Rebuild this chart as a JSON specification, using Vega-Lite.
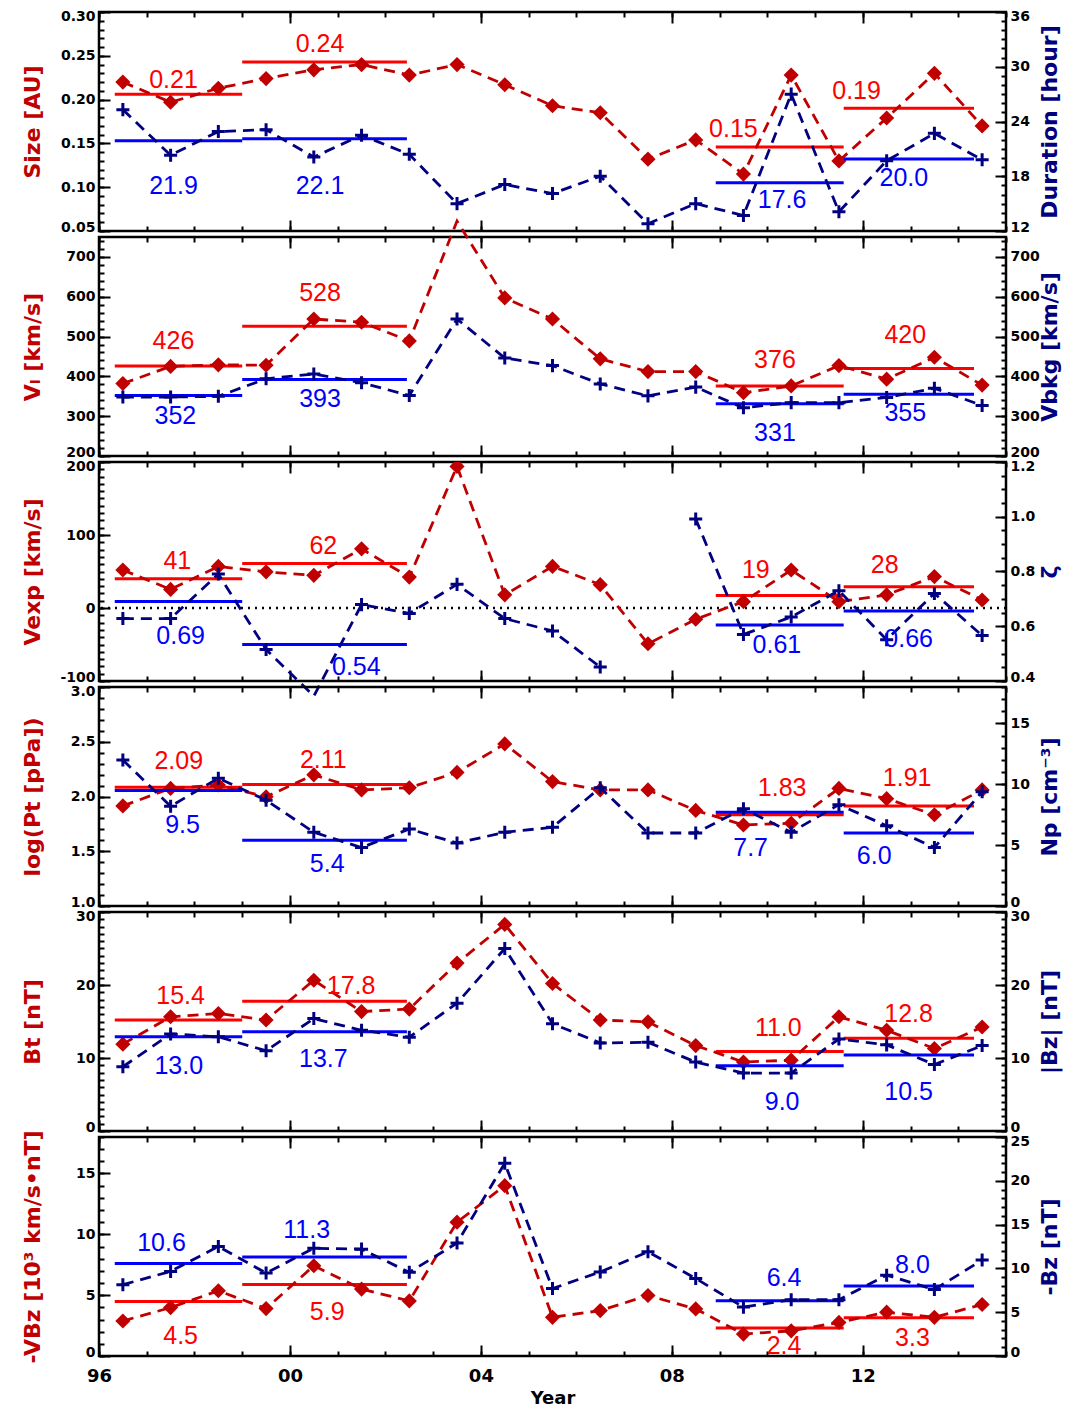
{
"$schema":"https://vega.github.io/schema/vega-lite/v6.json",
"padding":{"left":19,"top":7,"right":10,"bottom":5},
"spacing":6,
"bounds":"flush",
"config":{
 "view":{"stroke":"black","strokeWidth":2.5},
 "axis":{"grid":false,"domain":false,"tickColor":"black","tickWidth":2,"tickSize":-11,"labelPadding":15,"labelFont":"DejaVu Sans","labelFontSize":14,"labelFontWeight":"bold","labelColor":"black","labelOverlap":false,"labelFlush":false,"labelBound":false,"titleFont":"DejaVu Sans","titleFontSize":22,"titleFontWeight":"bold"},
 "line":{"strokeDash":[11,7],"strokeWidth":2.8,"clip":true},
 "rule":{"strokeWidth":3}
},
"datasets":{"d":[
{"p":1,"c":"r","t":1996.5,"v":0.220},{"p":1,"c":"r","t":1997.5,"v":0.197},{"p":1,"c":"r","t":1998.5,"v":0.213},{"p":1,"c":"r","t":1999.5,"v":0.224},{"p":1,"c":"r","t":2000.5,"v":0.234},{"p":1,"c":"r","t":2001.5,"v":0.240},{"p":1,"c":"r","t":2002.5,"v":0.228},{"p":1,"c":"r","t":2003.5,"v":0.240},{"p":1,"c":"r","t":2004.5,"v":0.217},{"p":1,"c":"r","t":2005.5,"v":0.193},{"p":1,"c":"r","t":2006.5,"v":0.185},{"p":1,"c":"r","t":2007.5,"v":0.132},{"p":1,"c":"r","t":2008.5,"v":0.154},{"p":1,"c":"r","t":2009.5,"v":0.115},{"p":1,"c":"r","t":2010.5,"v":0.228},{"p":1,"c":"r","t":2011.5,"v":0.130},{"p":1,"c":"r","t":2012.5,"v":0.179},{"p":1,"c":"r","t":2013.5,"v":0.230},{"p":1,"c":"r","t":2014.5,"v":0.170},
{"p":1,"c":"b","t":1996.5,"v":25.3},{"p":1,"c":"b","t":1997.5,"v":20.3},{"p":1,"c":"b","t":1998.5,"v":22.9},{"p":1,"c":"b","t":1999.5,"v":23.1},{"p":1,"c":"b","t":2000.5,"v":20.1},{"p":1,"c":"b","t":2001.5,"v":22.5},{"p":1,"c":"b","t":2002.5,"v":20.4},{"p":1,"c":"b","t":2003.5,"v":15.0},{"p":1,"c":"b","t":2004.5,"v":17.1},{"p":1,"c":"b","t":2005.5,"v":16.1},{"p":1,"c":"b","t":2006.5,"v":18.0},{"p":1,"c":"b","t":2007.5,"v":12.8},{"p":1,"c":"b","t":2008.5,"v":15.0},{"p":1,"c":"b","t":2009.5,"v":13.7},{"p":1,"c":"b","t":2010.5,"v":27.0},{"p":1,"c":"b","t":2011.5,"v":14.1},{"p":1,"c":"b","t":2012.5,"v":19.7},{"p":1,"c":"b","t":2013.5,"v":22.7},{"p":1,"c":"b","t":2014.5,"v":19.8},
{"p":2,"c":"r","t":1996.5,"v":382},{"p":2,"c":"r","t":1997.5,"v":425},{"p":2,"c":"r","t":1998.5,"v":429},{"p":2,"c":"r","t":1999.5,"v":428},{"p":2,"c":"r","t":2000.5,"v":544},{"p":2,"c":"r","t":2001.5,"v":536},{"p":2,"c":"r","t":2002.5,"v":489},{"p":2,"c":"r","t":2003.5,"v":790},{"p":2,"c":"r","t":2004.5,"v":597},{"p":2,"c":"r","t":2005.5,"v":544},{"p":2,"c":"r","t":2006.5,"v":444},{"p":2,"c":"r","t":2007.5,"v":412},{"p":2,"c":"r","t":2008.5,"v":412},{"p":2,"c":"r","t":2009.5,"v":359},{"p":2,"c":"r","t":2010.5,"v":376},{"p":2,"c":"r","t":2011.5,"v":427},{"p":2,"c":"r","t":2012.5,"v":393},{"p":2,"c":"r","t":2013.5,"v":448},{"p":2,"c":"r","t":2014.5,"v":378},
{"p":2,"c":"b","t":1996.5,"v":348},{"p":2,"c":"b","t":1997.5,"v":348},{"p":2,"c":"b","t":1998.5,"v":350},{"p":2,"c":"b","t":1999.5,"v":394},{"p":2,"c":"b","t":2000.5,"v":406},{"p":2,"c":"b","t":2001.5,"v":384},{"p":2,"c":"b","t":2002.5,"v":352},{"p":2,"c":"b","t":2003.5,"v":544},{"p":2,"c":"b","t":2004.5,"v":446},{"p":2,"c":"b","t":2005.5,"v":427},{"p":2,"c":"b","t":2006.5,"v":381},{"p":2,"c":"b","t":2007.5,"v":351},{"p":2,"c":"b","t":2008.5,"v":373},{"p":2,"c":"b","t":2009.5,"v":321},{"p":2,"c":"b","t":2010.5,"v":334},{"p":2,"c":"b","t":2011.5,"v":334},{"p":2,"c":"b","t":2012.5,"v":347},{"p":2,"c":"b","t":2013.5,"v":370},{"p":2,"c":"b","t":2014.5,"v":327},
{"p":3,"c":"r","t":1996.5,"v":52},{"p":3,"c":"r","t":1997.5,"v":25.5},{"p":3,"c":"r","t":1998.5,"v":57},{"p":3,"c":"r","t":1999.5,"v":49.5},{"p":3,"c":"r","t":2000.5,"v":44.7},{"p":3,"c":"r","t":2001.5,"v":81},{"p":3,"c":"r","t":2002.5,"v":42.3},{"p":3,"c":"r","t":2003.5,"v":194},{"p":3,"c":"r","t":2004.5,"v":18},{"p":3,"c":"r","t":2005.5,"v":57},{"p":3,"c":"r","t":2006.5,"v":32},{"p":3,"c":"r","t":2007.5,"v":-49},{"p":3,"c":"r","t":2008.5,"v":-15.4},{"p":3,"c":"r","t":2009.5,"v":8.7},{"p":3,"c":"r","t":2010.5,"v":52},{"p":3,"c":"r","t":2011.5,"v":8.7},{"p":3,"c":"r","t":2012.5,"v":18},{"p":3,"c":"r","t":2013.5,"v":43},{"p":3,"c":"r","t":2014.5,"v":11},
{"p":3,"c":"b","t":1996.5,"v":0.628},{"p":3,"c":"b","t":1997.5,"v":0.628},{"p":3,"c":"b","t":1998.5,"v":0.791},{"p":3,"c":"b","t":1999.5,"v":0.515},{"p":3,"c":"b","t":2000.5,"v":0.345},{"p":3,"c":"b","t":2001.5,"v":0.679},{"p":3,"c":"b","t":2002.5,"v":0.647},{"p":3,"c":"b","t":2003.5,"v":0.753},{"p":3,"c":"b","t":2004.5,"v":0.628},{"p":3,"c":"b","t":2005.5,"v":0.583},{"p":3,"c":"b","t":2006.5,"v":0.451},{"p":3,"c":"b","t":2008.5,"v":0.992,"run":2},{"p":3,"c":"b","t":2009.5,"v":0.570,"run":2},{"p":3,"c":"b","t":2010.5,"v":0.634,"run":2},{"p":3,"c":"b","t":2011.5,"v":0.730,"run":2},{"p":3,"c":"b","t":2012.5,"v":0.551,"run":2},{"p":3,"c":"b","t":2013.5,"v":0.720,"run":2},{"p":3,"c":"b","t":2014.5,"v":0.566,"run":2},
{"p":4,"c":"r","t":1996.5,"v":1.914},{"p":4,"c":"r","t":1997.5,"v":2.074},{"p":4,"c":"r","t":1998.5,"v":2.105},{"p":4,"c":"r","t":1999.5,"v":1.997},{"p":4,"c":"r","t":2000.5,"v":2.198},{"p":4,"c":"r","t":2001.5,"v":2.06},{"p":4,"c":"r","t":2002.5,"v":2.08},{"p":4,"c":"r","t":2003.5,"v":2.22},{"p":4,"c":"r","t":2004.5,"v":2.48},{"p":4,"c":"r","t":2005.5,"v":2.136},{"p":4,"c":"r","t":2006.5,"v":2.06},{"p":4,"c":"r","t":2007.5,"v":2.06},{"p":4,"c":"r","t":2008.5,"v":1.873},{"p":4,"c":"r","t":2009.5,"v":1.74},{"p":4,"c":"r","t":2010.5,"v":1.756},{"p":4,"c":"r","t":2011.5,"v":2.074},{"p":4,"c":"r","t":2012.5,"v":1.98},{"p":4,"c":"r","t":2013.5,"v":1.833},{"p":4,"c":"r","t":2014.5,"v":2.06},
{"p":4,"c":"b","t":1996.5,"v":12.0},{"p":4,"c":"b","t":1997.5,"v":8.2},{"p":4,"c":"b","t":1998.5,"v":10.5},{"p":4,"c":"b","t":1999.5,"v":8.7},{"p":4,"c":"b","t":2000.5,"v":6.06},{"p":4,"c":"b","t":2001.5,"v":4.8},{"p":4,"c":"b","t":2002.5,"v":6.33},{"p":4,"c":"b","t":2003.5,"v":5.17},{"p":4,"c":"b","t":2004.5,"v":6.06},{"p":4,"c":"b","t":2005.5,"v":6.47},{"p":4,"c":"b","t":2006.5,"v":9.72},{"p":4,"c":"b","t":2007.5,"v":6.0},{"p":4,"c":"b","t":2008.5,"v":6.0},{"p":4,"c":"b","t":2009.5,"v":8.0},{"p":4,"c":"b","t":2010.5,"v":6.06},{"p":4,"c":"b","t":2011.5,"v":8.33},{"p":4,"c":"b","t":2012.5,"v":6.6},{"p":4,"c":"b","t":2013.5,"v":4.8},{"p":4,"c":"b","t":2014.5,"v":9.4},
{"p":5,"c":"r","t":1996.5,"v":11.9},{"p":5,"c":"r","t":1997.5,"v":15.65},{"p":5,"c":"r","t":1998.5,"v":16.1},{"p":5,"c":"r","t":1999.5,"v":15.2},{"p":5,"c":"r","t":2000.5,"v":20.65},{"p":5,"c":"r","t":2001.5,"v":16.36},{"p":5,"c":"r","t":2002.5,"v":16.7},{"p":5,"c":"r","t":2003.5,"v":23.0},{"p":5,"c":"r","t":2004.5,"v":28.3},{"p":5,"c":"r","t":2005.5,"v":20.2},{"p":5,"c":"r","t":2006.5,"v":15.2},{"p":5,"c":"r","t":2007.5,"v":14.95},{"p":5,"c":"r","t":2008.5,"v":11.7},{"p":5,"c":"r","t":2009.5,"v":9.44},{"p":5,"c":"r","t":2010.5,"v":9.7},{"p":5,"c":"r","t":2011.5,"v":15.65},{"p":5,"c":"r","t":2012.5,"v":13.8},{"p":5,"c":"r","t":2013.5,"v":11.3},{"p":5,"c":"r","t":2014.5,"v":14.25},
{"p":5,"c":"b","t":1996.5,"v":8.8},{"p":5,"c":"b","t":1997.5,"v":13.3},{"p":5,"c":"b","t":1998.5,"v":12.9},{"p":5,"c":"b","t":1999.5,"v":11.0},{"p":5,"c":"b","t":2000.5,"v":15.4},{"p":5,"c":"b","t":2001.5,"v":13.8},{"p":5,"c":"b","t":2002.5,"v":12.85},{"p":5,"c":"b","t":2003.5,"v":17.5},{"p":5,"c":"b","t":2004.5,"v":25.0},{"p":5,"c":"b","t":2005.5,"v":14.7},{"p":5,"c":"b","t":2006.5,"v":12.06},{"p":5,"c":"b","t":2007.5,"v":12.15},{"p":5,"c":"b","t":2008.5,"v":9.44},{"p":5,"c":"b","t":2009.5,"v":7.94},{"p":5,"c":"b","t":2010.5,"v":7.94},{"p":5,"c":"b","t":2011.5,"v":12.6},{"p":5,"c":"b","t":2012.5,"v":11.8},{"p":5,"c":"b","t":2013.5,"v":9.1},{"p":5,"c":"b","t":2014.5,"v":11.7},
{"p":6,"c":"r","t":1996.5,"v":2.88},{"p":6,"c":"r","t":1997.5,"v":3.98},{"p":6,"c":"r","t":1998.5,"v":5.36},{"p":6,"c":"r","t":1999.5,"v":3.9},{"p":6,"c":"r","t":2000.5,"v":7.42},{"p":6,"c":"r","t":2001.5,"v":5.5},{"p":6,"c":"r","t":2002.5,"v":4.53},{"p":6,"c":"r","t":2003.5,"v":11.0},{"p":6,"c":"r","t":2004.5,"v":14.0},{"p":6,"c":"r","t":2005.5,"v":3.18},{"p":6,"c":"r","t":2006.5,"v":3.73},{"p":6,"c":"r","t":2007.5,"v":4.97},{"p":6,"c":"r","t":2008.5,"v":3.87},{"p":6,"c":"r","t":2009.5,"v":1.8},{"p":6,"c":"r","t":2010.5,"v":2.07},{"p":6,"c":"r","t":2011.5,"v":2.76},{"p":6,"c":"r","t":2012.5,"v":3.6},{"p":6,"c":"r","t":2013.5,"v":3.18},{"p":6,"c":"r","t":2014.5,"v":4.23},
{"p":6,"c":"b","t":1996.5,"v":8.14},{"p":6,"c":"b","t":1997.5,"v":9.66},{"p":6,"c":"b","t":1998.5,"v":12.5},{"p":6,"c":"b","t":1999.5,"v":9.47},{"p":6,"c":"b","t":2000.5,"v":12.3},{"p":6,"c":"b","t":2001.5,"v":12.2},{"p":6,"c":"b","t":2002.5,"v":9.55},{"p":6,"c":"b","t":2003.5,"v":12.9},{"p":6,"c":"b","t":2004.5,"v":22.0},{"p":6,"c":"b","t":2005.5,"v":7.7},{"p":6,"c":"b","t":2006.5,"v":9.6},{"p":6,"c":"b","t":2007.5,"v":11.9},{"p":6,"c":"b","t":2008.5,"v":8.85},{"p":6,"c":"b","t":2009.5,"v":5.58},{"p":6,"c":"b","t":2010.5,"v":6.42},{"p":6,"c":"b","t":2011.5,"v":6.42},{"p":6,"c":"b","t":2012.5,"v":9.23},{"p":6,"c":"b","t":2013.5,"v":7.58},{"p":6,"c":"b","t":2014.5,"v":10.96},
{"p":1,"c":"r","x0":1996.33,"x1":1999,"m":0.206,"lab":"0.21","lx":1997.56,"ly":0.222},
{"p":1,"c":"r","x0":1999,"x1":2002.45,"m":0.243,"lab":"0.24","lx":2000.63,"ly":0.263},
{"p":1,"c":"r","x0":2008.92,"x1":2011.6,"m":0.146,"lab":"0.15","lx":2009.29,"ly":0.167},
{"p":1,"c":"r","x0":2011.6,"x1":2014.33,"m":0.19,"lab":"0.19","lx":2011.87,"ly":0.21},
{"p":1,"c":"b","x0":1996.33,"x1":1999,"m":21.9,"lab":"21.9","lx":1997.56,"ly":16.9},
{"p":1,"c":"b","x0":1999,"x1":2002.45,"m":22.1,"lab":"22.1","lx":2000.63,"ly":16.9},
{"p":1,"c":"b","x0":2008.92,"x1":2011.6,"m":17.3,"lab":"17.6","lx":2010.31,"ly":15.4},
{"p":1,"c":"b","x0":2011.6,"x1":2014.33,"m":19.9,"lab":"20.0","lx":2012.86,"ly":17.8},
{"p":2,"c":"r","x0":1996.33,"x1":1999,"m":426,"lab":"426","lx":1997.56,"ly":489},
{"p":2,"c":"r","x0":1999,"x1":2002.45,"m":526,"lab":"528","lx":2000.63,"ly":609},
{"p":2,"c":"r","x0":2008.92,"x1":2011.6,"m":376,"lab":"376","lx":2010.16,"ly":440},
{"p":2,"c":"r","x0":2011.6,"x1":2014.33,"m":420,"lab":"420","lx":2012.89,"ly":503},
{"p":2,"c":"b","x0":1996.33,"x1":1999,"m":352,"lab":"352","lx":1997.6,"ly":301},
{"p":2,"c":"b","x0":1999,"x1":2002.45,"m":392,"lab":"393","lx":2000.63,"ly":344},
{"p":2,"c":"b","x0":2008.92,"x1":2011.6,"m":331,"lab":"331","lx":2010.16,"ly":258},
{"p":2,"c":"b","x0":2011.6,"x1":2014.33,"m":355,"lab":"355","lx":2012.89,"ly":308},
{"p":3,"c":"r","x0":1996.33,"x1":1999,"m":40,"lab":"41","lx":1997.64,"ly":65},
{"p":3,"c":"r","x0":1999,"x1":2002.45,"m":61,"lab":"62","lx":2000.7,"ly":85.6},
{"p":3,"c":"r","x0":2008.92,"x1":2011.6,"m":17,"lab":"19","lx":2009.76,"ly":52},
{"p":3,"c":"r","x0":2011.6,"x1":2014.33,"m":29,"lab":"28","lx":2012.46,"ly":59},
{"p":3,"c":"b","x0":1996.33,"x1":1999,"m":0.69,"lab":"0.69","lx":1997.71,"ly":0.564},
{"p":3,"c":"b","x0":1999,"x1":2002.45,"m":0.533,"lab":"0.54","lx":2001.39,"ly":0.451},
{"p":3,"c":"b","x0":2008.92,"x1":2011.6,"m":0.605,"lab":"0.61","lx":2010.2,"ly":0.532},
{"p":3,"c":"b","x0":2011.6,"x1":2014.33,"m":0.656,"lab":"0.66","lx":2012.96,"ly":0.553},
{"p":4,"c":"r","x0":1996.33,"x1":1999,"m":2.085,"lab":"2.09","lx":1997.67,"ly":2.32},
{"p":4,"c":"r","x0":1999,"x1":2002.45,"m":2.11,"lab":"2.11","lx":2000.7,"ly":2.336},
{"p":4,"c":"r","x0":2008.92,"x1":2011.6,"m":1.833,"lab":"1.83","lx":2010.31,"ly":2.074},
{"p":4,"c":"r","x0":2011.6,"x1":2014.33,"m":1.914,"lab":"1.91","lx":2012.93,"ly":2.167},
{"p":4,"c":"b","x0":1996.33,"x1":1999,"m":9.5,"lab":"9.5","lx":1997.75,"ly":6.67},
{"p":4,"c":"b","x0":1999,"x1":2002.45,"m":5.4,"lab":"5.4","lx":2000.78,"ly":3.42},
{"p":4,"c":"b","x0":2008.92,"x1":2011.6,"m":7.7,"lab":"7.7","lx":2009.65,"ly":4.8},
{"p":4,"c":"b","x0":2011.6,"x1":2014.33,"m":6.0,"lab":"6.0","lx":2012.24,"ly":4.1},
{"p":5,"c":"r","x0":1996.33,"x1":1999,"m":15.2,"lab":"15.4","lx":1997.71,"ly":18.46},
{"p":5,"c":"r","x0":1999,"x1":2002.45,"m":17.76,"lab":"17.8","lx":2001.28,"ly":19.86},
{"p":5,"c":"r","x0":2008.92,"x1":2011.6,"m":10.9,"lab":"11.0","lx":2010.23,"ly":14.1},
{"p":5,"c":"r","x0":2011.6,"x1":2014.33,"m":12.7,"lab":"12.8","lx":2012.96,"ly":16.0},
{"p":5,"c":"b","x0":1996.33,"x1":1999,"m":12.9,"lab":"13.0","lx":1997.67,"ly":8.97},
{"p":5,"c":"b","x0":1999,"x1":2002.45,"m":13.6,"lab":"13.7","lx":2000.7,"ly":9.8},
{"p":5,"c":"b","x0":2008.92,"x1":2011.6,"m":8.95,"lab":"9.0","lx":2010.31,"ly":3.97},
{"p":5,"c":"b","x0":2011.6,"x1":2014.33,"m":10.4,"lab":"10.5","lx":2012.96,"ly":5.4},
{"p":6,"c":"r","x0":1996.33,"x1":1999,"m":4.48,"lab":"4.5","lx":1997.71,"ly":1.65},
{"p":6,"c":"r","x0":1999,"x1":2002.45,"m":5.88,"lab":"5.9","lx":2000.78,"ly":3.63},
{"p":6,"c":"r","x0":2008.92,"x1":2011.6,"m":2.3,"lab":"2.4","lx":2010.35,"ly":0.83},
{"p":6,"c":"r","x0":2011.6,"x1":2014.33,"m":3.15,"lab":"3.3","lx":2013.04,"ly":1.52},
{"p":6,"c":"b","x0":1996.33,"x1":1999,"m":10.55,"lab":"10.6","lx":1997.31,"ly":12.95},
{"p":6,"c":"b","x0":1999,"x1":2002.45,"m":11.3,"lab":"11.3","lx":2000.35,"ly":14.4},
{"p":6,"c":"b","x0":2008.92,"x1":2011.6,"m":6.3,"lab":"6.4","lx":2010.35,"ly":8.85},
{"p":6,"c":"b","x0":2011.6,"x1":2014.33,"m":8.0,"lab":"8.0","lx":2013.04,"ly":10.4}
]},
"vconcat":[
{"width":907,"height":219,"data":{"name":"d"},"transform":[{"filter":"datum.p==1"}],"resolve":{"scale":{"x":"independent","y":"independent"}},
"layer":[
{"transform":[{"filter":"datum.c=='r'"}],"layer":[
{"transform":[{"filter":"isValid(datum.x0)"}],"mark":{"type":"rule","color":"#ff0000"},"encoding":{
"x":{"field":"x0","type":"quantitative","scale":{"domain":[1996,2015],"nice":false,"zero":false},"title":null,"axis":{"orient":"bottom","values":[1996,2000,2004,2008,2012],"labels":false}},
"x2":{"field":"x1"},
"y":{"field":"m","type":"quantitative","scale":{"domain":[0.05,0.3],"nice":false,"zero":false},"title":"Size [AU]","axis":{"orient":"left","values":[0.05,0.1,0.15,0.2,0.25,0.3],"labelExpr":"format(datum.value,'.2f')","titleColor":"#c00000","minExtent":42,"maxExtent":42,"titlePadding":13,"labelFlush":true,"labelFlushOffset":3}}}},
{"transform":[{"filter":"isValid(datum.t)"}],"mark":{"type":"line","color":"#c00000"},"encoding":{
"x":{"field":"t","type":"quantitative","scale":{"domain":[1996,2015],"nice":false,"zero":false},"title":null},
"y":{"field":"v","type":"quantitative","scale":{"domain":[0.05,0.3],"nice":false,"zero":false},"title":"Size [AU]"},"detail":{"field":"run","type":"nominal"}}},
{"transform":[{"filter":"isValid(datum.t)"}],"mark":{"type":"point","shape":"diamond","filled":true,"opacity":1,"size":230,"color":"#c00000","clip":true},"encoding":{
"x":{"field":"t","type":"quantitative","scale":{"domain":[1996,2015],"nice":false,"zero":false},"title":null},
"y":{"field":"v","type":"quantitative","scale":{"domain":[0.05,0.3],"nice":false,"zero":false},"title":"Size [AU]"}}},
{"transform":[{"filter":"isValid(datum.x0)"}],"mark":{"type":"text","color":"#ff0000","font":"Liberation Sans","fontSize":25,"align":"center","baseline":"middle"},"encoding":{
"x":{"field":"lx","type":"quantitative","scale":{"domain":[1996,2015],"nice":false,"zero":false},"title":null},
"y":{"field":"ly","type":"quantitative","scale":{"domain":[0.05,0.3],"nice":false,"zero":false},"title":"Size [AU]"},"text":{"field":"lab"}}}
]},
{"transform":[{"filter":"datum.c=='b'"}],"layer":[
{"transform":[{"filter":"isValid(datum.x0)"}],"mark":{"type":"rule","color":"#0000ff"},"encoding":{
"x":{"field":"x0","type":"quantitative","scale":{"domain":[1996,2015],"nice":false,"zero":false},"title":null,"axis":{"orient":"top","values":[1996,2000,2004,2008,2012],"labels":false}},
"x2":{"field":"x1"},
"y":{"field":"m","type":"quantitative","scale":{"domain":[12,36],"nice":false,"zero":false},"title":"Duration [hour]","axis":{"orient":"right","values":[12,18,24,30,36],"labelExpr":"toString(datum.value)","titleColor":"#000080","titleAngle":270,"titleBaseline":"top","minExtent":30,"maxExtent":30,"titlePadding":3,"labelFlush":true,"labelFlushOffset":3}}}},
{"transform":[{"filter":"isValid(datum.t)"}],"mark":{"type":"line","color":"#000080"},"encoding":{
"x":{"field":"t","type":"quantitative","scale":{"domain":[1996,2015],"nice":false,"zero":false},"title":null},
"y":{"field":"v","type":"quantitative","scale":{"domain":[12,36],"nice":false,"zero":false},"title":"Duration [hour]"},"detail":{"field":"run","type":"nominal"}}},
{"transform":[{"filter":"isValid(datum.t)"}],"mark":{"type":"point","shape":"M-1,0H1M0,-1V1","filled":false,"opacity":1,"strokeWidth":3,"size":170,"color":"#000080","clip":true},"encoding":{
"x":{"field":"t","type":"quantitative","scale":{"domain":[1996,2015],"nice":false,"zero":false},"title":null},
"y":{"field":"v","type":"quantitative","scale":{"domain":[12,36],"nice":false,"zero":false},"title":"Duration [hour]"}}},
{"transform":[{"filter":"isValid(datum.x0)"}],"mark":{"type":"text","color":"#0000ff","font":"Liberation Sans","fontSize":25,"align":"center","baseline":"middle"},"encoding":{
"x":{"field":"lx","type":"quantitative","scale":{"domain":[1996,2015],"nice":false,"zero":false},"title":null},
"y":{"field":"ly","type":"quantitative","scale":{"domain":[12,36],"nice":false,"zero":false},"title":"Duration [hour]"},"text":{"field":"lab"}}}
]},
{"transform":[{"filter":"datum.c=='r' && isValid(datum.t)"}],"mark":{"type":"point","opacity":0,"clip":true},"encoding":{
"x":{"field":"t","type":"quantitative","scale":{"domain":[1996,2015],"nice":false,"zero":false},"title":null,"axis":{"orient":"bottom","values":[1996,1997,1998,1999,2000,2001,2002,2003,2004,2005,2006,2007,2008,2009,2010,2011,2012,2013,2014,2015],"labels":false,"tickSize":-5}},
"y":{"field":"v","type":"quantitative","scale":{"domain":[0.05,0.3],"nice":false,"zero":false},"title":null,"axis":{"orient":"left","values":[0.05,0.06,0.07,0.08,0.09,0.1,0.11,0.12,0.13,0.14,0.15,0.16,0.17,0.18,0.19,0.2,0.21,0.22,0.23,0.24,0.25,0.26,0.27,0.28,0.29,0.3],"labels":false,"tickSize":-5}}}},
{"transform":[{"filter":"datum.c=='b' && isValid(datum.t)"}],"mark":{"type":"point","opacity":0,"clip":true},"encoding":{
"x":{"field":"t","type":"quantitative","scale":{"domain":[1996,2015],"nice":false,"zero":false},"title":null,"axis":{"orient":"top","values":[1996,1997,1998,1999,2000,2001,2002,2003,2004,2005,2006,2007,2008,2009,2010,2011,2012,2013,2014,2015],"labels":false,"tickSize":-5}},
"y":{"field":"v","type":"quantitative","scale":{"domain":[12,36],"nice":false,"zero":false},"title":null,"axis":{"orient":"right","values":[12,13,14,15,16,17,18,19,20,21,22,23,24,25,26,27,28,29,30,31,32,33,34,35,36],"labels":false,"tickSize":-5}}}}
]},
{"width":907,"height":219,"data":{"name":"d"},"transform":[{"filter":"datum.p==2"}],"resolve":{"scale":{"x":"independent","y":"independent"}},
"layer":[
{"transform":[{"filter":"datum.c=='r'"}],"layer":[
{"transform":[{"filter":"isValid(datum.x0)"}],"mark":{"type":"rule","color":"#ff0000"},"encoding":{
"x":{"field":"x0","type":"quantitative","scale":{"domain":[1996,2015],"nice":false,"zero":false},"title":null,"axis":{"orient":"bottom","values":[1996,2000,2004,2008,2012],"labels":false}},
"x2":{"field":"x1"},
"y":{"field":"m","type":"quantitative","scale":{"domain":[200,750],"nice":false,"zero":false},"title":"Vₗ [km/s]","axis":{"orient":"left","values":[200,300,400,500,600,700],"labelExpr":"toString(datum.value)","titleColor":"#c00000","minExtent":42,"maxExtent":42,"titlePadding":13,"labelFlush":true,"labelFlushOffset":3}}}},
{"transform":[{"filter":"isValid(datum.t)"}],"mark":{"type":"line","color":"#c00000"},"encoding":{
"x":{"field":"t","type":"quantitative","scale":{"domain":[1996,2015],"nice":false,"zero":false},"title":null},
"y":{"field":"v","type":"quantitative","scale":{"domain":[200,750],"nice":false,"zero":false},"title":"Vₗ [km/s]"},"detail":{"field":"run","type":"nominal"}}},
{"transform":[{"filter":"isValid(datum.t)"}],"mark":{"type":"point","shape":"diamond","filled":true,"opacity":1,"size":230,"color":"#c00000","clip":true},"encoding":{
"x":{"field":"t","type":"quantitative","scale":{"domain":[1996,2015],"nice":false,"zero":false},"title":null},
"y":{"field":"v","type":"quantitative","scale":{"domain":[200,750],"nice":false,"zero":false},"title":"Vₗ [km/s]"}}},
{"transform":[{"filter":"isValid(datum.x0)"}],"mark":{"type":"text","color":"#ff0000","font":"Liberation Sans","fontSize":25,"align":"center","baseline":"middle"},"encoding":{
"x":{"field":"lx","type":"quantitative","scale":{"domain":[1996,2015],"nice":false,"zero":false},"title":null},
"y":{"field":"ly","type":"quantitative","scale":{"domain":[200,750],"nice":false,"zero":false},"title":"Vₗ [km/s]"},"text":{"field":"lab"}}}
]},
{"transform":[{"filter":"datum.c=='b'"}],"layer":[
{"transform":[{"filter":"isValid(datum.x0)"}],"mark":{"type":"rule","color":"#0000ff"},"encoding":{
"x":{"field":"x0","type":"quantitative","scale":{"domain":[1996,2015],"nice":false,"zero":false},"title":null,"axis":{"orient":"top","values":[1996,2000,2004,2008,2012],"labels":false}},
"x2":{"field":"x1"},
"y":{"field":"m","type":"quantitative","scale":{"domain":[200,750],"nice":false,"zero":false},"title":"Vbkg [km/s]","axis":{"orient":"right","values":[200,300,400,500,600,700],"labelExpr":"toString(datum.value)","titleColor":"#000080","titleAngle":270,"titleBaseline":"top","minExtent":30,"maxExtent":30,"titlePadding":3,"labelFlush":true,"labelFlushOffset":3}}}},
{"transform":[{"filter":"isValid(datum.t)"}],"mark":{"type":"line","color":"#000080"},"encoding":{
"x":{"field":"t","type":"quantitative","scale":{"domain":[1996,2015],"nice":false,"zero":false},"title":null},
"y":{"field":"v","type":"quantitative","scale":{"domain":[200,750],"nice":false,"zero":false},"title":"Vbkg [km/s]"},"detail":{"field":"run","type":"nominal"}}},
{"transform":[{"filter":"isValid(datum.t)"}],"mark":{"type":"point","shape":"M-1,0H1M0,-1V1","filled":false,"opacity":1,"strokeWidth":3,"size":170,"color":"#000080","clip":true},"encoding":{
"x":{"field":"t","type":"quantitative","scale":{"domain":[1996,2015],"nice":false,"zero":false},"title":null},
"y":{"field":"v","type":"quantitative","scale":{"domain":[200,750],"nice":false,"zero":false},"title":"Vbkg [km/s]"}}},
{"transform":[{"filter":"isValid(datum.x0)"}],"mark":{"type":"text","color":"#0000ff","font":"Liberation Sans","fontSize":25,"align":"center","baseline":"middle"},"encoding":{
"x":{"field":"lx","type":"quantitative","scale":{"domain":[1996,2015],"nice":false,"zero":false},"title":null},
"y":{"field":"ly","type":"quantitative","scale":{"domain":[200,750],"nice":false,"zero":false},"title":"Vbkg [km/s]"},"text":{"field":"lab"}}}
]},
{"transform":[{"filter":"datum.c=='r' && isValid(datum.t)"}],"mark":{"type":"point","opacity":0,"clip":true},"encoding":{
"x":{"field":"t","type":"quantitative","scale":{"domain":[1996,2015],"nice":false,"zero":false},"title":null,"axis":{"orient":"bottom","values":[1996,1997,1998,1999,2000,2001,2002,2003,2004,2005,2006,2007,2008,2009,2010,2011,2012,2013,2014,2015],"labels":false,"tickSize":-5}},
"y":{"field":"v","type":"quantitative","scale":{"domain":[200,750],"nice":false,"zero":false},"title":null,"axis":{"orient":"left","values":[200,220,240,260,280,300,320,340,360,380,400,420,440,460,480,500,520,540,560,580,600,620,640,660,680,700,720,740],"labels":false,"tickSize":-5}}}},
{"transform":[{"filter":"datum.c=='b' && isValid(datum.t)"}],"mark":{"type":"point","opacity":0,"clip":true},"encoding":{
"x":{"field":"t","type":"quantitative","scale":{"domain":[1996,2015],"nice":false,"zero":false},"title":null,"axis":{"orient":"top","values":[1996,1997,1998,1999,2000,2001,2002,2003,2004,2005,2006,2007,2008,2009,2010,2011,2012,2013,2014,2015],"labels":false,"tickSize":-5}},
"y":{"field":"v","type":"quantitative","scale":{"domain":[200,750],"nice":false,"zero":false},"title":null,"axis":{"orient":"right","values":[200,220,240,260,280,300,320,340,360,380,400,420,440,460,480,500,520,540,560,580,600,620,640,660,680,700,720,740],"labels":false,"tickSize":-5}}}}
]},
{"width":907,"height":219,"data":{"name":"d"},"transform":[{"filter":"datum.p==3"}],"resolve":{"scale":{"x":"independent","y":"independent"}},
"layer":[
{"transform":[{"filter":"datum.c=='r'"}],"layer":[
{"transform":[{"filter":"isValid(datum.x0)"}],"mark":{"type":"rule","color":"#ff0000"},"encoding":{
"x":{"field":"x0","type":"quantitative","scale":{"domain":[1996,2015],"nice":false,"zero":false},"title":null,"axis":{"orient":"bottom","values":[1996,2000,2004,2008,2012],"labels":false}},
"x2":{"field":"x1"},
"y":{"field":"m","type":"quantitative","scale":{"domain":[-100,200],"nice":false,"zero":false},"title":"Vexp [km/s]","axis":{"orient":"left","values":[-100,-50,0,50,100,150,200],"labelExpr":"toString(datum.value)","titleColor":"#c00000","minExtent":42,"maxExtent":42,"titlePadding":13,"labelFlush":true,"labelFlushOffset":3}}}},
{"data":{"values":[{"p":3,"c":"r","z":0}]},"mark":{"type":"rule","color":"black","strokeDash":[2,5],"strokeWidth":2.5},"encoding":{
"y":{"field":"z","type":"quantitative","scale":{"domain":[-100,200],"nice":false,"zero":false},"title":"Vexp [km/s]"}}},
{"transform":[{"filter":"isValid(datum.t)"}],"mark":{"type":"line","color":"#c00000"},"encoding":{
"x":{"field":"t","type":"quantitative","scale":{"domain":[1996,2015],"nice":false,"zero":false},"title":null},
"y":{"field":"v","type":"quantitative","scale":{"domain":[-100,200],"nice":false,"zero":false},"title":"Vexp [km/s]"},"detail":{"field":"run","type":"nominal"}}},
{"transform":[{"filter":"isValid(datum.t)"}],"mark":{"type":"point","shape":"diamond","filled":true,"opacity":1,"size":230,"color":"#c00000","clip":true},"encoding":{
"x":{"field":"t","type":"quantitative","scale":{"domain":[1996,2015],"nice":false,"zero":false},"title":null},
"y":{"field":"v","type":"quantitative","scale":{"domain":[-100,200],"nice":false,"zero":false},"title":"Vexp [km/s]"}}},
{"transform":[{"filter":"isValid(datum.x0)"}],"mark":{"type":"text","color":"#ff0000","font":"Liberation Sans","fontSize":25,"align":"center","baseline":"middle"},"encoding":{
"x":{"field":"lx","type":"quantitative","scale":{"domain":[1996,2015],"nice":false,"zero":false},"title":null},
"y":{"field":"ly","type":"quantitative","scale":{"domain":[-100,200],"nice":false,"zero":false},"title":"Vexp [km/s]"},"text":{"field":"lab"}}}
]},
{"transform":[{"filter":"datum.c=='b'"}],"layer":[
{"transform":[{"filter":"isValid(datum.x0)"}],"mark":{"type":"rule","color":"#0000ff"},"encoding":{
"x":{"field":"x0","type":"quantitative","scale":{"domain":[1996,2015],"nice":false,"zero":false},"title":null,"axis":{"orient":"top","values":[1996,2000,2004,2008,2012],"labels":false}},
"x2":{"field":"x1"},
"y":{"field":"m","type":"quantitative","scale":{"domain":[0.4,1.2],"nice":false,"zero":false},"title":"ζ","axis":{"orient":"right","values":[0.4,0.6,0.8,1.0,1.2],"labelExpr":"format(datum.value,'.1f')","titleColor":"#000080","titleAngle":270,"titleBaseline":"top","minExtent":30,"maxExtent":30,"titlePadding":3,"labelFlush":true,"labelFlushOffset":3}}}},
{"transform":[{"filter":"isValid(datum.t)"}],"mark":{"type":"line","color":"#000080"},"encoding":{
"x":{"field":"t","type":"quantitative","scale":{"domain":[1996,2015],"nice":false,"zero":false},"title":null},
"y":{"field":"v","type":"quantitative","scale":{"domain":[0.4,1.2],"nice":false,"zero":false},"title":"ζ"},"detail":{"field":"run","type":"nominal"}}},
{"transform":[{"filter":"isValid(datum.t)"}],"mark":{"type":"point","shape":"M-1,0H1M0,-1V1","filled":false,"opacity":1,"strokeWidth":3,"size":170,"color":"#000080","clip":true},"encoding":{
"x":{"field":"t","type":"quantitative","scale":{"domain":[1996,2015],"nice":false,"zero":false},"title":null},
"y":{"field":"v","type":"quantitative","scale":{"domain":[0.4,1.2],"nice":false,"zero":false},"title":"ζ"}}},
{"transform":[{"filter":"isValid(datum.x0)"}],"mark":{"type":"text","color":"#0000ff","font":"Liberation Sans","fontSize":25,"align":"center","baseline":"middle"},"encoding":{
"x":{"field":"lx","type":"quantitative","scale":{"domain":[1996,2015],"nice":false,"zero":false},"title":null},
"y":{"field":"ly","type":"quantitative","scale":{"domain":[0.4,1.2],"nice":false,"zero":false},"title":"ζ"},"text":{"field":"lab"}}}
]},
{"transform":[{"filter":"datum.c=='r' && isValid(datum.t)"}],"mark":{"type":"point","opacity":0,"clip":true},"encoding":{
"x":{"field":"t","type":"quantitative","scale":{"domain":[1996,2015],"nice":false,"zero":false},"title":null,"axis":{"orient":"bottom","values":[1996,1997,1998,1999,2000,2001,2002,2003,2004,2005,2006,2007,2008,2009,2010,2011,2012,2013,2014,2015],"labels":false,"tickSize":-5}},
"y":{"field":"v","type":"quantitative","scale":{"domain":[-100,200],"nice":false,"zero":false},"title":null,"axis":{"orient":"left","values":[-100,-90,-80,-70,-60,-50,-40,-30,-20,-10,0,10,20,30,40,50,60,70,80,90,100,110,120,130,140,150,160,170,180,190,200],"labels":false,"tickSize":-5}}}},
{"transform":[{"filter":"datum.c=='b' && isValid(datum.t)"}],"mark":{"type":"point","opacity":0,"clip":true},"encoding":{
"x":{"field":"t","type":"quantitative","scale":{"domain":[1996,2015],"nice":false,"zero":false},"title":null,"axis":{"orient":"top","values":[1996,1997,1998,1999,2000,2001,2002,2003,2004,2005,2006,2007,2008,2009,2010,2011,2012,2013,2014,2015],"labels":false,"tickSize":-5}},
"y":{"field":"v","type":"quantitative","scale":{"domain":[0.4,1.2],"nice":false,"zero":false},"title":null,"axis":{"orient":"right","values":[0.4,0.45,0.5,0.55,0.6,0.65,0.7,0.75,0.8,0.85,0.9,0.95,1,1.05,1.1,1.15,1.2],"labels":false,"tickSize":-5}}}}
]},
{"width":907,"height":219,"data":{"name":"d"},"transform":[{"filter":"datum.p==4"}],"resolve":{"scale":{"x":"independent","y":"independent"}},
"layer":[
{"transform":[{"filter":"datum.c=='r'"}],"layer":[
{"transform":[{"filter":"isValid(datum.x0)"}],"mark":{"type":"rule","color":"#ff0000"},"encoding":{
"x":{"field":"x0","type":"quantitative","scale":{"domain":[1996,2015],"nice":false,"zero":false},"title":null,"axis":{"orient":"bottom","values":[1996,2000,2004,2008,2012],"labels":false}},
"x2":{"field":"x1"},
"y":{"field":"m","type":"quantitative","scale":{"domain":[1,3],"nice":false,"zero":false},"title":"log(Pt [pPa])","axis":{"orient":"left","values":[1,1.5,2,2.5,3],"labelExpr":"format(datum.value,'.1f')","titleColor":"#c00000","minExtent":42,"maxExtent":42,"titlePadding":13,"labelFlush":true,"labelFlushOffset":3}}}},
{"transform":[{"filter":"isValid(datum.t)"}],"mark":{"type":"line","color":"#c00000"},"encoding":{
"x":{"field":"t","type":"quantitative","scale":{"domain":[1996,2015],"nice":false,"zero":false},"title":null},
"y":{"field":"v","type":"quantitative","scale":{"domain":[1,3],"nice":false,"zero":false},"title":"log(Pt [pPa])"},"detail":{"field":"run","type":"nominal"}}},
{"transform":[{"filter":"isValid(datum.t)"}],"mark":{"type":"point","shape":"diamond","filled":true,"opacity":1,"size":230,"color":"#c00000","clip":true},"encoding":{
"x":{"field":"t","type":"quantitative","scale":{"domain":[1996,2015],"nice":false,"zero":false},"title":null},
"y":{"field":"v","type":"quantitative","scale":{"domain":[1,3],"nice":false,"zero":false},"title":"log(Pt [pPa])"}}},
{"transform":[{"filter":"isValid(datum.x0)"}],"mark":{"type":"text","color":"#ff0000","font":"Liberation Sans","fontSize":25,"align":"center","baseline":"middle"},"encoding":{
"x":{"field":"lx","type":"quantitative","scale":{"domain":[1996,2015],"nice":false,"zero":false},"title":null},
"y":{"field":"ly","type":"quantitative","scale":{"domain":[1,3],"nice":false,"zero":false},"title":"log(Pt [pPa])"},"text":{"field":"lab"}}}
]},
{"transform":[{"filter":"datum.c=='b'"}],"layer":[
{"transform":[{"filter":"isValid(datum.x0)"}],"mark":{"type":"rule","color":"#0000ff"},"encoding":{
"x":{"field":"x0","type":"quantitative","scale":{"domain":[1996,2015],"nice":false,"zero":false},"title":null,"axis":{"orient":"top","values":[1996,2000,2004,2008,2012],"labels":false}},
"x2":{"field":"x1"},
"y":{"field":"m","type":"quantitative","scale":{"domain":[0,18],"nice":false,"zero":false},"title":"Np [cm⁻³]","axis":{"orient":"right","values":[0,5,10,15],"labelExpr":"toString(datum.value)","titleColor":"#000080","titleAngle":270,"titleBaseline":"top","minExtent":30,"maxExtent":30,"titlePadding":3,"labelFlush":true,"labelFlushOffset":3}}}},
{"transform":[{"filter":"isValid(datum.t)"}],"mark":{"type":"line","color":"#000080"},"encoding":{
"x":{"field":"t","type":"quantitative","scale":{"domain":[1996,2015],"nice":false,"zero":false},"title":null},
"y":{"field":"v","type":"quantitative","scale":{"domain":[0,18],"nice":false,"zero":false},"title":"Np [cm⁻³]"},"detail":{"field":"run","type":"nominal"}}},
{"transform":[{"filter":"isValid(datum.t)"}],"mark":{"type":"point","shape":"M-1,0H1M0,-1V1","filled":false,"opacity":1,"strokeWidth":3,"size":170,"color":"#000080","clip":true},"encoding":{
"x":{"field":"t","type":"quantitative","scale":{"domain":[1996,2015],"nice":false,"zero":false},"title":null},
"y":{"field":"v","type":"quantitative","scale":{"domain":[0,18],"nice":false,"zero":false},"title":"Np [cm⁻³]"}}},
{"transform":[{"filter":"isValid(datum.x0)"}],"mark":{"type":"text","color":"#0000ff","font":"Liberation Sans","fontSize":25,"align":"center","baseline":"middle"},"encoding":{
"x":{"field":"lx","type":"quantitative","scale":{"domain":[1996,2015],"nice":false,"zero":false},"title":null},
"y":{"field":"ly","type":"quantitative","scale":{"domain":[0,18],"nice":false,"zero":false},"title":"Np [cm⁻³]"},"text":{"field":"lab"}}}
]},
{"transform":[{"filter":"datum.c=='r' && isValid(datum.t)"}],"mark":{"type":"point","opacity":0,"clip":true},"encoding":{
"x":{"field":"t","type":"quantitative","scale":{"domain":[1996,2015],"nice":false,"zero":false},"title":null,"axis":{"orient":"bottom","values":[1996,1997,1998,1999,2000,2001,2002,2003,2004,2005,2006,2007,2008,2009,2010,2011,2012,2013,2014,2015],"labels":false,"tickSize":-5}},
"y":{"field":"v","type":"quantitative","scale":{"domain":[1,3],"nice":false,"zero":false},"title":null,"axis":{"orient":"left","values":[1,1.1,1.2,1.3,1.4,1.5,1.6,1.7,1.8,1.9,2,2.1,2.2,2.3,2.4,2.5,2.6,2.7,2.8,2.9,3],"labels":false,"tickSize":-5}}}},
{"transform":[{"filter":"datum.c=='b' && isValid(datum.t)"}],"mark":{"type":"point","opacity":0,"clip":true},"encoding":{
"x":{"field":"t","type":"quantitative","scale":{"domain":[1996,2015],"nice":false,"zero":false},"title":null,"axis":{"orient":"top","values":[1996,1997,1998,1999,2000,2001,2002,2003,2004,2005,2006,2007,2008,2009,2010,2011,2012,2013,2014,2015],"labels":false,"tickSize":-5}},
"y":{"field":"v","type":"quantitative","scale":{"domain":[0,18],"nice":false,"zero":false},"title":null,"axis":{"orient":"right","values":[0,1,2,3,4,5,6,7,8,9,10,11,12,13,14,15,16,17,18],"labels":false,"tickSize":-5}}}}
]},
{"width":907,"height":219,"data":{"name":"d"},"transform":[{"filter":"datum.p==5"}],"resolve":{"scale":{"x":"independent","y":"independent"}},
"layer":[
{"transform":[{"filter":"datum.c=='r'"}],"layer":[
{"transform":[{"filter":"isValid(datum.x0)"}],"mark":{"type":"rule","color":"#ff0000"},"encoding":{
"x":{"field":"x0","type":"quantitative","scale":{"domain":[1996,2015],"nice":false,"zero":false},"title":null,"axis":{"orient":"bottom","values":[1996,2000,2004,2008,2012],"labels":false}},
"x2":{"field":"x1"},
"y":{"field":"m","type":"quantitative","scale":{"domain":[0,30],"nice":false,"zero":false},"title":"Bt [nT]","axis":{"orient":"left","values":[0,5,10,15,20,25,30],"labelExpr":"toString(datum.value)","titleColor":"#c00000","minExtent":42,"maxExtent":42,"titlePadding":13,"labelFlush":true,"labelFlushOffset":3}}}},
{"transform":[{"filter":"isValid(datum.t)"}],"mark":{"type":"line","color":"#c00000"},"encoding":{
"x":{"field":"t","type":"quantitative","scale":{"domain":[1996,2015],"nice":false,"zero":false},"title":null},
"y":{"field":"v","type":"quantitative","scale":{"domain":[0,30],"nice":false,"zero":false},"title":"Bt [nT]"},"detail":{"field":"run","type":"nominal"}}},
{"transform":[{"filter":"isValid(datum.t)"}],"mark":{"type":"point","shape":"diamond","filled":true,"opacity":1,"size":230,"color":"#c00000","clip":true},"encoding":{
"x":{"field":"t","type":"quantitative","scale":{"domain":[1996,2015],"nice":false,"zero":false},"title":null},
"y":{"field":"v","type":"quantitative","scale":{"domain":[0,30],"nice":false,"zero":false},"title":"Bt [nT]"}}},
{"transform":[{"filter":"isValid(datum.x0)"}],"mark":{"type":"text","color":"#ff0000","font":"Liberation Sans","fontSize":25,"align":"center","baseline":"middle"},"encoding":{
"x":{"field":"lx","type":"quantitative","scale":{"domain":[1996,2015],"nice":false,"zero":false},"title":null},
"y":{"field":"ly","type":"quantitative","scale":{"domain":[0,30],"nice":false,"zero":false},"title":"Bt [nT]"},"text":{"field":"lab"}}}
]},
{"transform":[{"filter":"datum.c=='b'"}],"layer":[
{"transform":[{"filter":"isValid(datum.x0)"}],"mark":{"type":"rule","color":"#0000ff"},"encoding":{
"x":{"field":"x0","type":"quantitative","scale":{"domain":[1996,2015],"nice":false,"zero":false},"title":null,"axis":{"orient":"top","values":[1996,2000,2004,2008,2012],"labels":false}},
"x2":{"field":"x1"},
"y":{"field":"m","type":"quantitative","scale":{"domain":[0,30],"nice":false,"zero":false},"title":"|Bz| [nT]","axis":{"orient":"right","values":[0,5,10,15,20,25,30],"labelExpr":"toString(datum.value)","titleColor":"#000080","titleAngle":270,"titleBaseline":"top","minExtent":30,"maxExtent":30,"titlePadding":3,"labelFlush":true,"labelFlushOffset":3}}}},
{"transform":[{"filter":"isValid(datum.t)"}],"mark":{"type":"line","color":"#000080"},"encoding":{
"x":{"field":"t","type":"quantitative","scale":{"domain":[1996,2015],"nice":false,"zero":false},"title":null},
"y":{"field":"v","type":"quantitative","scale":{"domain":[0,30],"nice":false,"zero":false},"title":"|Bz| [nT]"},"detail":{"field":"run","type":"nominal"}}},
{"transform":[{"filter":"isValid(datum.t)"}],"mark":{"type":"point","shape":"M-1,0H1M0,-1V1","filled":false,"opacity":1,"strokeWidth":3,"size":170,"color":"#000080","clip":true},"encoding":{
"x":{"field":"t","type":"quantitative","scale":{"domain":[1996,2015],"nice":false,"zero":false},"title":null},
"y":{"field":"v","type":"quantitative","scale":{"domain":[0,30],"nice":false,"zero":false},"title":"|Bz| [nT]"}}},
{"transform":[{"filter":"isValid(datum.x0)"}],"mark":{"type":"text","color":"#0000ff","font":"Liberation Sans","fontSize":25,"align":"center","baseline":"middle"},"encoding":{
"x":{"field":"lx","type":"quantitative","scale":{"domain":[1996,2015],"nice":false,"zero":false},"title":null},
"y":{"field":"ly","type":"quantitative","scale":{"domain":[0,30],"nice":false,"zero":false},"title":"|Bz| [nT]"},"text":{"field":"lab"}}}
]},
{"transform":[{"filter":"datum.c=='r' && isValid(datum.t)"}],"mark":{"type":"point","opacity":0,"clip":true},"encoding":{
"x":{"field":"t","type":"quantitative","scale":{"domain":[1996,2015],"nice":false,"zero":false},"title":null,"axis":{"orient":"bottom","values":[1996,1997,1998,1999,2000,2001,2002,2003,2004,2005,2006,2007,2008,2009,2010,2011,2012,2013,2014,2015],"labels":false,"tickSize":-5}},
"y":{"field":"v","type":"quantitative","scale":{"domain":[0,30],"nice":false,"zero":false},"title":null,"axis":{"orient":"left","values":[0,1,2,3,4,5,6,7,8,9,10,11,12,13,14,15,16,17,18,19,20,21,22,23,24,25,26,27,28,29,30],"labels":false,"tickSize":-5}}}},
{"transform":[{"filter":"datum.c=='b' && isValid(datum.t)"}],"mark":{"type":"point","opacity":0,"clip":true},"encoding":{
"x":{"field":"t","type":"quantitative","scale":{"domain":[1996,2015],"nice":false,"zero":false},"title":null,"axis":{"orient":"top","values":[1996,1997,1998,1999,2000,2001,2002,2003,2004,2005,2006,2007,2008,2009,2010,2011,2012,2013,2014,2015],"labels":false,"tickSize":-5}},
"y":{"field":"v","type":"quantitative","scale":{"domain":[0,30],"nice":false,"zero":false},"title":null,"axis":{"orient":"right","values":[0,1,2,3,4,5,6,7,8,9,10,11,12,13,14,15,16,17,18,19,20,21,22,23,24,25,26,27,28,29,30],"labels":false,"tickSize":-5}}}}
]},
{"width":907,"height":219,"data":{"name":"d"},"transform":[{"filter":"datum.p==6"}],"resolve":{"scale":{"x":"independent","y":"independent"}},
"layer":[
{"transform":[{"filter":"datum.c=='r'"}],"layer":[
{"transform":[{"filter":"isValid(datum.x0)"}],"mark":{"type":"rule","color":"#ff0000"},"encoding":{
"x":{"field":"x0","type":"quantitative","scale":{"domain":[1996,2015],"nice":false,"zero":false},"title":"Year","axis":{"orient":"bottom","values":[1996,2000,2004,2008,2012],"labelExpr":"slice(toString(datum.value),2)","labelFontSize":18,"labelPadding":22,"titleFontSize":18,"titleColor":"black","titlePadding":4}},
"x2":{"field":"x1"},
"y":{"field":"m","type":"quantitative","scale":{"domain":[0,18],"nice":false,"zero":false},"title":"-VBz [10³ km/s•nT]","axis":{"orient":"left","values":[0,5,10,15],"labelExpr":"toString(datum.value)","titleColor":"#c00000","minExtent":42,"maxExtent":42,"titlePadding":13,"labelFlush":true,"labelFlushOffset":3}}}},
{"transform":[{"filter":"isValid(datum.t)"}],"mark":{"type":"line","color":"#c00000"},"encoding":{
"x":{"field":"t","type":"quantitative","scale":{"domain":[1996,2015],"nice":false,"zero":false},"title":"Year"},
"y":{"field":"v","type":"quantitative","scale":{"domain":[0,18],"nice":false,"zero":false},"title":"-VBz [10³ km/s•nT]"},"detail":{"field":"run","type":"nominal"}}},
{"transform":[{"filter":"isValid(datum.t)"}],"mark":{"type":"point","shape":"diamond","filled":true,"opacity":1,"size":230,"color":"#c00000","clip":true},"encoding":{
"x":{"field":"t","type":"quantitative","scale":{"domain":[1996,2015],"nice":false,"zero":false},"title":"Year"},
"y":{"field":"v","type":"quantitative","scale":{"domain":[0,18],"nice":false,"zero":false},"title":"-VBz [10³ km/s•nT]"}}},
{"transform":[{"filter":"isValid(datum.x0)"}],"mark":{"type":"text","color":"#ff0000","font":"Liberation Sans","fontSize":25,"align":"center","baseline":"middle"},"encoding":{
"x":{"field":"lx","type":"quantitative","scale":{"domain":[1996,2015],"nice":false,"zero":false},"title":"Year"},
"y":{"field":"ly","type":"quantitative","scale":{"domain":[0,18],"nice":false,"zero":false},"title":"-VBz [10³ km/s•nT]"},"text":{"field":"lab"}}}
]},
{"transform":[{"filter":"datum.c=='b'"}],"layer":[
{"transform":[{"filter":"isValid(datum.x0)"}],"mark":{"type":"rule","color":"#0000ff"},"encoding":{
"x":{"field":"x0","type":"quantitative","scale":{"domain":[1996,2015],"nice":false,"zero":false},"title":null,"axis":{"orient":"top","values":[1996,2000,2004,2008,2012],"labels":false}},
"x2":{"field":"x1"},
"y":{"field":"m","type":"quantitative","scale":{"domain":[0,25],"nice":false,"zero":false},"title":"-Bz [nT]","axis":{"orient":"right","values":[0,5,10,15,20,25],"labelExpr":"toString(datum.value)","titleColor":"#000080","titleAngle":270,"titleBaseline":"top","minExtent":30,"maxExtent":30,"titlePadding":3,"labelFlush":true,"labelFlushOffset":3}}}},
{"transform":[{"filter":"isValid(datum.t)"}],"mark":{"type":"line","color":"#000080"},"encoding":{
"x":{"field":"t","type":"quantitative","scale":{"domain":[1996,2015],"nice":false,"zero":false},"title":null},
"y":{"field":"v","type":"quantitative","scale":{"domain":[0,25],"nice":false,"zero":false},"title":"-Bz [nT]"},"detail":{"field":"run","type":"nominal"}}},
{"transform":[{"filter":"isValid(datum.t)"}],"mark":{"type":"point","shape":"M-1,0H1M0,-1V1","filled":false,"opacity":1,"strokeWidth":3,"size":170,"color":"#000080","clip":true},"encoding":{
"x":{"field":"t","type":"quantitative","scale":{"domain":[1996,2015],"nice":false,"zero":false},"title":null},
"y":{"field":"v","type":"quantitative","scale":{"domain":[0,25],"nice":false,"zero":false},"title":"-Bz [nT]"}}},
{"transform":[{"filter":"isValid(datum.x0)"}],"mark":{"type":"text","color":"#0000ff","font":"Liberation Sans","fontSize":25,"align":"center","baseline":"middle"},"encoding":{
"x":{"field":"lx","type":"quantitative","scale":{"domain":[1996,2015],"nice":false,"zero":false},"title":null},
"y":{"field":"ly","type":"quantitative","scale":{"domain":[0,25],"nice":false,"zero":false},"title":"-Bz [nT]"},"text":{"field":"lab"}}}
]},
{"transform":[{"filter":"datum.c=='r' && isValid(datum.t)"}],"mark":{"type":"point","opacity":0,"clip":true},"encoding":{
"x":{"field":"t","type":"quantitative","scale":{"domain":[1996,2015],"nice":false,"zero":false},"title":null,"axis":{"orient":"bottom","values":[1996,1997,1998,1999,2000,2001,2002,2003,2004,2005,2006,2007,2008,2009,2010,2011,2012,2013,2014,2015],"labels":false,"tickSize":-5}},
"y":{"field":"v","type":"quantitative","scale":{"domain":[0,18],"nice":false,"zero":false},"title":null,"axis":{"orient":"left","values":[0,1,2,3,4,5,6,7,8,9,10,11,12,13,14,15,16,17,18],"labels":false,"tickSize":-5}}}},
{"transform":[{"filter":"datum.c=='b' && isValid(datum.t)"}],"mark":{"type":"point","opacity":0,"clip":true},"encoding":{
"x":{"field":"t","type":"quantitative","scale":{"domain":[1996,2015],"nice":false,"zero":false},"title":null,"axis":{"orient":"top","values":[1996,1997,1998,1999,2000,2001,2002,2003,2004,2005,2006,2007,2008,2009,2010,2011,2012,2013,2014,2015],"labels":false,"tickSize":-5}},
"y":{"field":"v","type":"quantitative","scale":{"domain":[0,25],"nice":false,"zero":false},"title":null,"axis":{"orient":"right","values":[0,1,2,3,4,5,6,7,8,9,10,11,12,13,14,15,16,17,18,19,20,21,22,23,24,25],"labels":false,"tickSize":-5}}}}
]}
]
}
